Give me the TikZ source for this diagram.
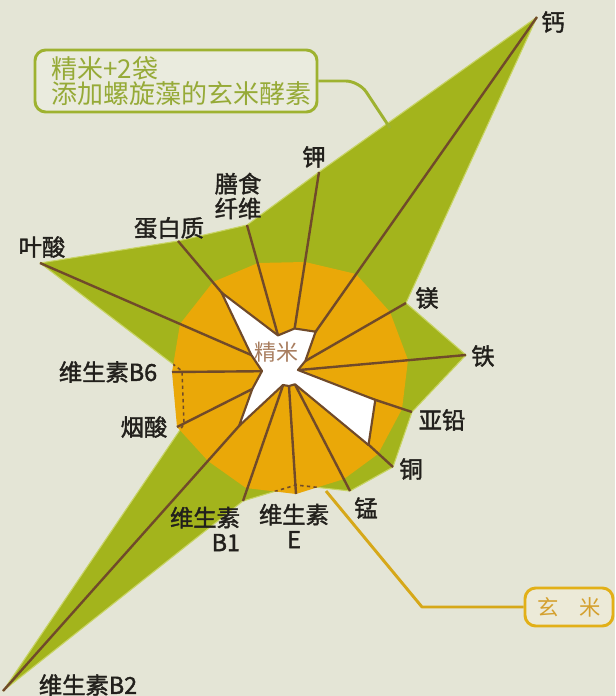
\documentclass[tikz,border=0pt]{standalone}
\usepackage{fontspec}
\setmainfont{Noto Sans CJK SC}
\newfontfamily\lblfont[FakeBold=1.6]{Noto Sans CJK SC}
\definecolor{bgc}{RGB}{228,229,214}
\definecolor{greenc}{RGB}{163,180,28}
\definecolor{greenedge}{RGB}{200,212,100}
\definecolor{orangec}{RGB}{234,168,8}
\definecolor{brownc}{RGB}{112,74,42}
\definecolor{labelc}{RGB}{34,32,28}
\definecolor{gboxc}{RGB}{158,178,48}
\definecolor{gtextc}{RGB}{150,170,55}
\definecolor{gfillc}{RGB}{234,235,222}
\definecolor{yboxc}{RGB}{226,176,24}
\definecolor{ytextc}{RGB}{212,160,45}
\definecolor{yfillc}{RGB}{236,234,216}
\definecolor{ylinec}{RGB}{214,168,25}
\definecolor{centerc}{RGB}{168,125,95}
\tikzset{
  lbl/.style={font=\lblfont\fontsize{17.5pt}{18.5pt}\selectfont, text=labelc, inner sep=0pt},
  axisline/.style={draw=brownc, line width=1.8pt},
  whiteshape/.style={fill=white, draw=brownc, line width=1.6pt, line join=round},
  dashedge/.style={draw=brownc, line width=1.2pt, dash pattern=on 2.5pt off 2.5pt},
  gboxstyle/.style={draw=gboxc, line width=2.2pt, fill=gfillc, rounded corners=8pt, inner sep=0pt},
  gtext/.style={font=\fontsize{19.5pt}{18pt}\selectfont, text=gtextc, inner sep=0pt, align=left},
  yboxstyle/.style={draw=yboxc, line width=2.2pt, fill=yfillc, rounded corners=8pt, inner sep=0pt,
     font=\fontsize{16pt}{18pt}\selectfont, text=ytextc},
  gconn/.style={draw=gboxc, line width=2.2pt, rounded corners=10pt},
  yconn/.style={draw=ylinec, line width=2.2pt, line join=round},
}
\begin{document}
\begin{tikzpicture}[x=0.75pt,y=-0.75pt]
\useasboundingbox (0,0) rectangle (615,696);
\fill[bgc] (0,0) rectangle (615,696);

% centre
\coordinate (C) at (288,371);

% green polygon (rice + enzyme)
\coordinate (gCa) at (537,17);
\coordinate (gMg) at (406,303);
\coordinate (gFe) at (466,355);
\coordinate (gZn) at (412,412);
\coordinate (gCu) at (393,467);
\coordinate (gMn) at (350,491);
\coordinate (gE) at (296,485);
\coordinate (gB1) at (243,501);
\coordinate (gB2) at (3,691);
\coordinate (gNia) at (184,424);
\coordinate (gB6) at (182,371);
\coordinate (gFol) at (40,263);
\coordinate (gPro) at (178,241);
\coordinate (gFib) at (247,225);
\coordinate (gK) at (319,172);

% orange polygon (brown rice)
\coordinate (oCa) at (356,274);
\coordinate (oK) at (305,262);
\coordinate (oFib) at (258,263);
\coordinate (oPro) at (213,282);
\coordinate (oFol) at (180,324);
\coordinate (oB6) at (172,372);
\coordinate (oNia) at (177,427);
\coordinate (oB2) at (208,461);
\coordinate (oB1) at (246,488);
\coordinate (oE) at (296,494);
\coordinate (oMn) at (344,479);
\coordinate (oCu) at (378,454);
\coordinate (oZn) at (402,409);
\coordinate (oFe) at (408,360);
\coordinate (oMg) at (390,312);

% white polygon (polished rice)
\coordinate (wCa) at (315.6,331.7);
\coordinate (wK) at (294.6,328.5);
\coordinate (wFib) at (278,335.4);
\coordinate (wPro) at (221.5,292.5);
\coordinate (wFol) at (251.3,355);
\coordinate (wB6) at (262,371);
\coordinate (wNia) at (252.3,389);
\coordinate (wB2) at (239,426);
\coordinate (wB1) at (283,385);
\coordinate (wE) at (289,386);
\coordinate (wMn) at (295,384.3);
\coordinate (wCu) at (368.5,445);
\coordinate (wZn) at (375.3,399.9);
\coordinate (wFe) at (298,370);
\coordinate (wMg) at (305.3,361);

\path[fill=greenc, draw=greenedge, line width=0.8pt, line join=round]
  (gCa) -- (gMg) -- (gFe) -- (gZn) -- (gCu) -- (gMn) -- (gE) -- (gB1) -- (gB2)
  -- (gNia) -- (gB6) -- (gFol) -- (gPro) -- (gFib) -- (gK) -- cycle;

\fill[orangec]
  (oCa) -- (oMg) -- (oFe) -- (oZn) -- (oCu) -- (oMn) -- (oE) -- (oB1) -- (oB2)
  -- (oNia) -- (oB6) -- (oFol) -- (oPro) -- (oFib) -- (oK) -- cycle;

\begin{scope}
  \clip (oCa) -- (oMg) -- (oFe) -- (oZn) -- (oCu) -- (oMn) -- (oE) -- (oB1) -- (oB2)
  -- (oNia) -- (oB6) -- (oFol) -- (oPro) -- (oFib) -- (oK) -- cycle;
  \draw[dashedge]
  (gCa) -- (gMg) -- (gFe) -- (gZn) -- (gCu) -- (gMn) -- (gE) -- (gB1) -- (gB2)
  -- (gNia) -- (gB6) -- (gFol) -- (gPro) -- (gFib) -- (gK) -- cycle;
\end{scope}

\foreach \n in {Ca,Mg,Fe,Zn,Cu,Mn,B1,B2,Fol,Pro,Fib,K}
  \draw[axisline] (C) -- (g\n);
\foreach \n in {E,Nia,B6}
  \draw[axisline] (C) -- (o\n);

\path[whiteshape]
  (wCa) -- (wMg) -- (wFe) -- (wZn) -- (wCu) -- (wMn) -- (wE) -- (wB1) -- (wB2)
  -- (wNia) -- (wB6) -- (wFol) -- (wPro) -- (wFib) -- (wK) -- cycle;

\node[font=\fontsize{16.5pt}{18pt}\selectfont, text=centerc, inner sep=0pt] (ctr) at (276,352) {精米};

% labels
\node[lbl] (tCa) at (553,22) {钙};
\node[lbl] (tK) at (314,157) {钾};
\node[lbl, align=center] (tFib) at (238,196) {膳食\\纤维};
\node[lbl] (tPro) at (169,228) {蛋白质};
\node[lbl] (tFol) at (42,247) {叶酸};
\node[lbl] (tB6) at (108,372) {维生素B6};
\node[lbl] (tNia) at (144,427) {烟酸};
\node[lbl] (tB2) at (88,685) {维生素B2};
\node[lbl, align=right] (tB1) at (205,529) {维生素\\B1};
\node[lbl, align=center] (tE) at (294,526) {维生素\\E};
\node[lbl] (tMn) at (366,508) {锰};
\node[lbl] (tCu) at (411,469) {铜};
\node[lbl] (tZn) at (442,420) {亚铅};
\node[lbl] (tFe) at (483,356) {铁};
\node[lbl] (tMg) at (427,298) {镁};

% legend boxes
\node[gboxstyle, minimum width=211.5pt, minimum height=46.5pt] (gb) at (176,81) {};
\node[gtext, anchor=west] (gbt) at (51,81) {精米+2袋\\添加螺旋藻的玄米酵素};
\coordinate (gEnd) at (390,128);
\draw[gconn] (gb.east) -- (359,81) -- (gEnd);

\node[yboxstyle, minimum width=66pt, minimum height=28.5pt] (yb) at (569,607) {玄\hspace{0.95em}米};
\coordinate (yEnd) at (326,491);
\draw[yconn] (yb.west) -- (422,607) -- (yEnd);
\end{tikzpicture}
\end{document}
